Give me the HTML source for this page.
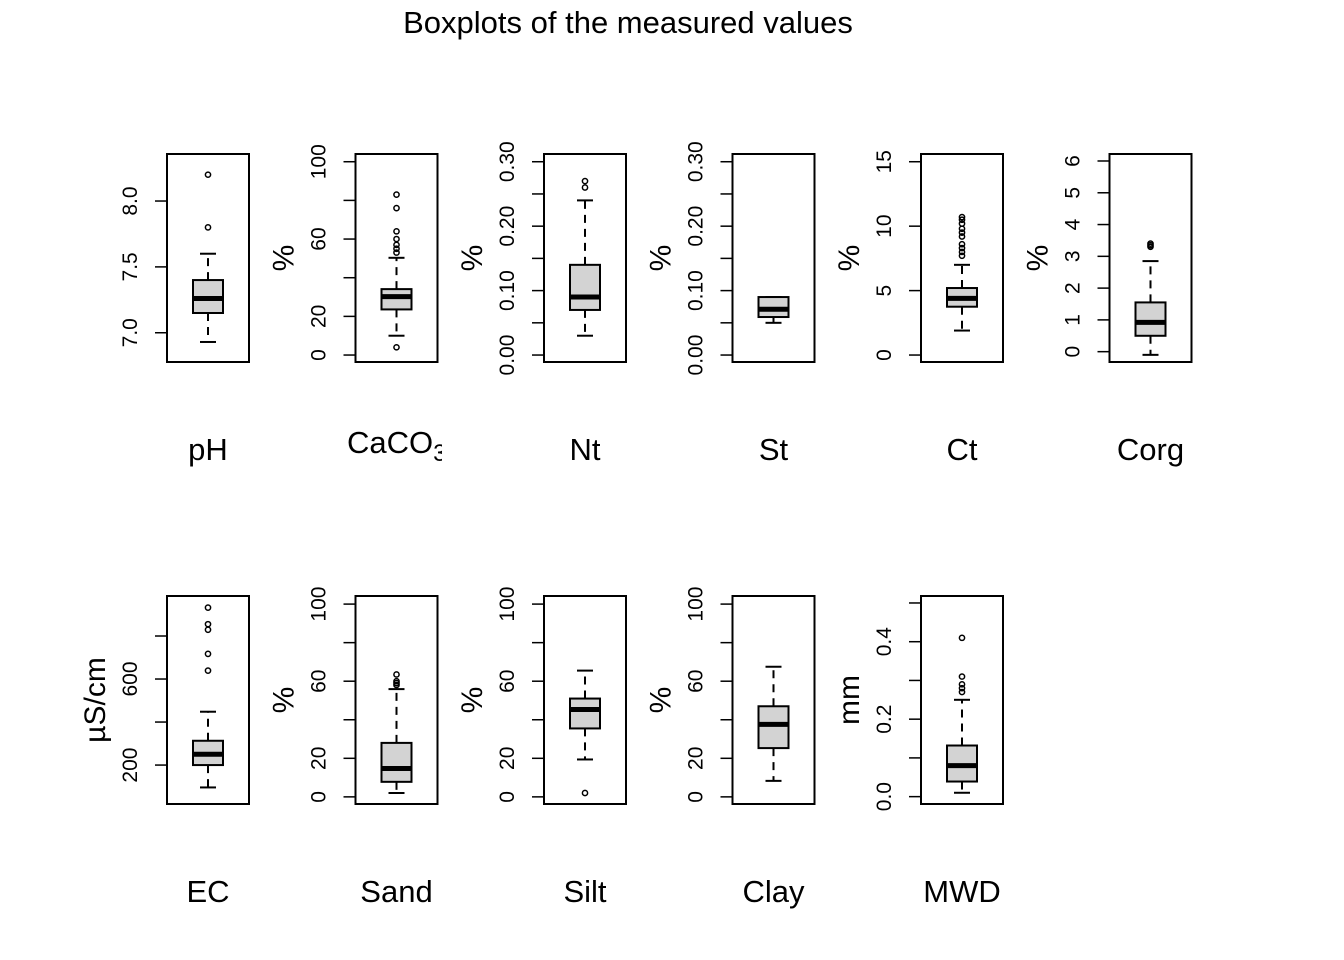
<!DOCTYPE html>
<html><head><meta charset="utf-8"><style>
html,body{margin:0;padding:0;background:#fff;}
svg{display:block;font-family:"Liberation Sans",Arial,sans-serif;}
</style></head><body>
<svg id="chart" width="1344" height="960" viewBox="0 0 1344 960">
<rect width="1344" height="960" fill="#fff"/>
<text x="628" y="33" font-size="31" text-anchor="middle">Boxplots of the measured values</text>
<defs><clipPath id="clipCaCO3"><rect x="330" y="400" width="112" height="80"/></clipPath></defs>
</svg>
<script>
const names = ["pH","CaCO3","Nt","St","Ct","Corg","EC","Sand","Silt","Clay","MWD"];
const units = ["","%","%","%","%","%","µS/cm","%","%","%","mm"];
const lowWhisker = [6.93,10,0.03,0.05,1.9,-0.1,96,2,19.4,8.3,0.01];
const q1 = [7.15,23.6,0.07,0.059,3.75,0.5,200,7.8,35.5,25.3,0.039];
const medians = [7.26,30.2,0.09,0.071,4.4,0.92,250,14.7,45.3,37.6,0.08];
const q3 = [7.40,34.1,0.14,0.09,5.2,1.55,313,28,51,47,0.132];
const highWhisker = [7.6,50.3,0.24,0.09,7.0,2.85,448,55.9,65.5,67.5,0.25];
const outliers = [[7.8,8.2],[4,53,55,57,60,64,76,83],[0.26,0.27],[],[7.7,8.0,8.3,8.6,9.2,9.5,9.8,10.2,10.5,10.7],[3.3,3.35,3.4],[639,717,829,855,932],[58,59,60,63.5],[2],[],[0.27,0.28,0.29,0.31,0.41]];
const ylims = [[6.778,8.357],[-3.6,104],[-0.0108,0.312],[-0.0108,0.312],[-0.54,15.6],[-0.325,6.22],[19,986],[-3.7,104.2],[-3.7,104.2],[-3.7,104.2],[-0.019,0.518]];
const ticks = [[7.0,7.5,8.0],[0,20,40,60,80,100],[0,0.05,0.1,0.15,0.2,0.25,0.3],[0,0.05,0.1,0.15,0.2,0.25,0.3],[0,5,10,15],[0,1,2,3,4,5,6],[200,400,600,800],[0,20,40,60,80,100],[0,20,40,60,80,100],[0,20,40,60,80,100],[0,0.1,0.2,0.3,0.4,0.5]];
const tickLabels = [["7.0","7.5","8.0"],["0","20","","60","","100"],["0.00","","0.10","","0.20","","0.30"],["0.00","","0.10","","0.20","","0.30"],["0","5","10","15"],["0","1","2","3","4","5","6"],["200","","600",""],["0","20","","60","","100"],["0","20","","60","","100"],["0","20","","60","","100"],["0.0","","0.2","","0.4",""]];

const svg = document.getElementById('chart');
const NS = "http://www.w3.org/2000/svg";
function mk(tag, attrs, parent){const e=document.createElementNS(NS,tag);for(const k in attrs)e.setAttribute(k,attrs[k]);(parent||svg).appendChild(e);return e;}
const lefts=[167,355.5,544,732.5,921,1109.5];
const W=82,H=208;
names.forEach((nm,i)=>{
  const row=Math.floor(i/6), col=i%6;
  const L=lefts[col], T=row?596:154, B=T+H;
  const [lo,hi]=ylims[i];
  const y=v=>B-(v-lo)/(hi-lo)*H;
  const cx=L+W/2;
  const g=mk('g',{});
  
  
  ticks[i].forEach((t,j)=>{
    const ty=y(t);
    const tl=mk('line',{x1:L-12,x2:L,y1:ty,y2:ty,stroke:'#000','stroke-width':1.5},g);
    
    
    if(tickLabels[i][j]){
      const tx=mk('text',{x:0,y:0,'font-size':21,'text-anchor':'middle',transform:`translate(${L-30},${ty}) rotate(-90)`},g);
      tx.textContent=tickLabels[i][j];
      
      
    }
  });
  const wl=mk('line',{x1:cx,x2:cx,y1:y(q3[i]),y2:y(highWhisker[i]),stroke:'#000','stroke-width':2,'stroke-dasharray':'8,6'},g);
  
  
  const wl2=mk('line',{x1:cx,x2:cx,y1:y(q1[i]),y2:y(lowWhisker[i]),stroke:'#000','stroke-width':2,'stroke-dasharray':'8,6'},g);
  
  
  [highWhisker[i],lowWhisker[i]].forEach(v=>{
    const c=mk('line',{x1:cx-8,x2:cx+8,y1:y(v),y2:y(v),stroke:'#000','stroke-width':2},g);
    
    
  });
  const bx=mk('rect',{x:cx-15,y:y(q3[i]),width:30,height:y(q1[i])-y(q3[i]),fill:'#d3d3d3',stroke:'#000','stroke-width':2},g);
  
  
  const md=mk('line',{x1:cx-15,x2:cx+15,y1:y(medians[i]),y2:y(medians[i]),stroke:'#000','stroke-width':5},g);
  
  
  outliers[i].forEach(v=>{
    const o=mk('circle',{cx:cx,cy:y(v),r:2.6,fill:'none',stroke:'#000','stroke-width':1.5},g);
    
    
  });
  const fr=mk('rect',{x:L,y:T,width:W,height:H,fill:'none',stroke:'#000','stroke-width':2},g);
  
  
  if(units[i]){
    const u=mk('text',{x:0,y:0,'font-size':30,'text-anchor':'middle',transform:`translate(${L-62},${T+H/2}) rotate(-90)`},g);
    u.textContent=units[i];
    
    
  }
  const nt=mk('text',{x:cx,y:T+306,'font-size':31,'text-anchor':'middle'},g);
  if(nm==='CaCO3'){
    nt.setAttribute('text-anchor','start');nt.setAttribute('x',347);nt.setAttribute('y',T+299);
    nt.setAttribute('clip-path','url(#clipCaCO3)');
    nt.textContent='CaCO';
    const sub=mk('tspan',{dy:8,'font-size':24},nt);
    sub.textContent='3';
  }
  else nt.textContent=nm;
  
  
});
</script>
</body></html>
